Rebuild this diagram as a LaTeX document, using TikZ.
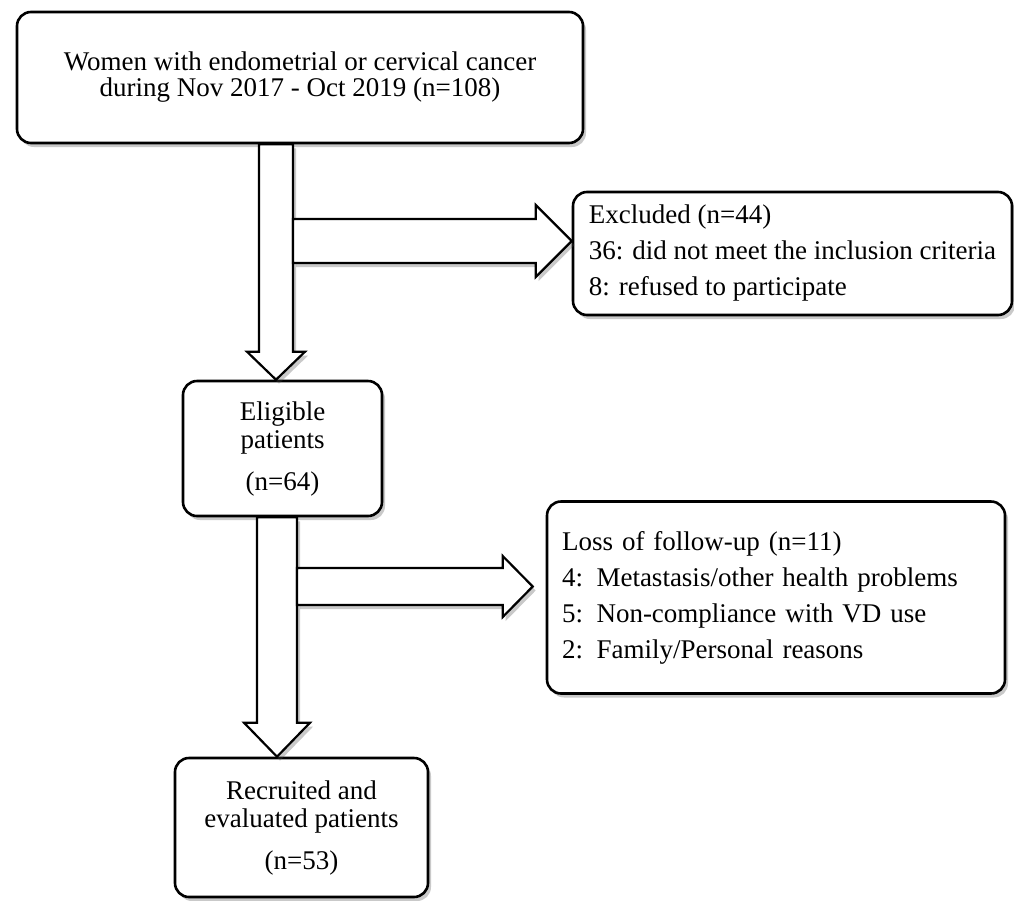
\documentclass[tikz,border=0pt]{standalone}
\usepackage{fontspec}
\setmainfont{Liberation Serif}
\usetikzlibrary{calc,shadows}

\tikzset{
  shade/.style={drop shadow={shadow xshift=3pt,shadow yshift=-4pt,opacity=0.3,fill=black!70}},
  box/.style={draw,line width=2.6pt,rounded corners=14pt,fill=white,shade,inner sep=0pt,align=center,font=\fontsize{27}{28}\selectfont},
  sidebox/.style={box,align=left,font=\fontsize{27}{36}\selectfont},
  blk/.style={draw,line width=2.2pt,fill=white,line join=miter,shade}
}

\begin{document}
\begin{tikzpicture}[x=1pt,y=-1pt]
  \useasboundingbox (0,0) rectangle (1014,900);

  %kasser
	\node[box,minimum width=566pt,minimum height=131pt,font=\fontsize{27}{26}\selectfont] (women) at (300,77.5) {Women with endometrial or cervical cancer\\during Nov 2017 - Oct 2019 (n=108)};
	\node[box,minimum width=199pt,minimum height=135pt] (elig) at (282.5,448.5) {Eligible\\patients\\[14pt](n=64)};
	\node[box,minimum width=253pt,minimum height=139pt] (recr) at (301.5,827.5) {Recruited and\\evaluated patients\\[14pt](n=53)};

  %sidekasser
	\node[sidebox,minimum width=439pt,minimum height=123pt] (excl) at (792.5,253.5) {Excluded (n=44)\\36: did not meet the inclusion criteria\\8: refused to participate};
	\node[sidebox,minimum width=458pt,minimum height=192pt,text width=428pt,inner xsep=15pt] (loss) at (776,597.5) {Loss of follow-up (n=11)\\4: Metastasis/other health problems\\5: Non-compliance with VD use\\2: Family/Personal reasons};

  %pil 1 ned
	\coordinate (d1a) at (276,0 |- women.south);
	\coordinate (d1b) at (276,0 |- elig.north);
	\draw[blk] ($(d1a)+(-17,0)$) -- ($(d1b)+(-17,-28)$) -- ($(d1b)+(-29,-28)$) -- (d1b) -- ($(d1b)+(29,-28)$) -- ($(d1b)+(17,-28)$) -- ($(d1a)+(17,0)$) -- cycle;

  %pil 1 til siden
	\coordinate (r1a) at (293,241);
	\coordinate (r1b) at (excl.west |- r1a);
	\draw[blk] ($(r1a)+(0,-22)$) -- ($(r1b)+(-36,-22)$) -- ($(r1b)+(-36,-36)$) -- (r1b) -- ($(r1b)+(-36,36)$) -- ($(r1b)+(-36,22)$) -- ($(r1a)+(0,22)$) -- cycle;

  %pil 2 ned
	\coordinate (d2a) at (277,0 |- elig.south);
	\coordinate (d2b) at (277,0 |- recr.north);
	\draw[blk] ($(d2a)+(-20,0)$) -- ($(d2b)+(-20,-34)$) -- ($(d2b)+(-33,-34)$) -- (d2b) -- ($(d2b)+(33,-34)$) -- ($(d2b)+(20,-34)$) -- ($(d2a)+(20,0)$) -- cycle;

  %pil 2 til siden
	\coordinate (r2a) at (297,586.5);
	\coordinate (r2b) at ($(loss.west |- r2a)+(-13,0)$);
	\draw[blk] ($(r2a)+(0,-18.5)$) -- ($(r2b)+(-30,-18.5)$) -- ($(r2b)+(-30,-30.5)$) -- (r2b) -- ($(r2b)+(-30,30.5)$) -- ($(r2b)+(-30,18.5)$) -- ($(r2a)+(0,18.5)$) -- cycle;
\end{tikzpicture}
\end{document}
